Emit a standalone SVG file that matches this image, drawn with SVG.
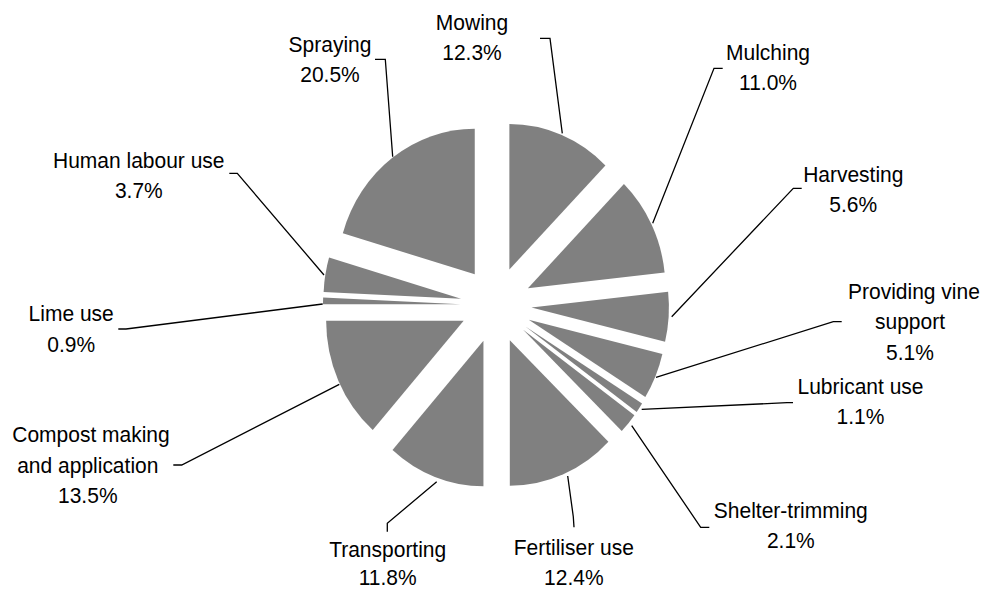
<svg xmlns="http://www.w3.org/2000/svg" width="981" height="592" viewBox="0 0 981 592">
  <style>
    .slice { fill: #808080; }
    .lbl { font-family: "Liberation Sans", Arial, sans-serif; font-size: 21px; fill: #000; text-anchor: middle; }
    .lead { fill: none; stroke: #000; stroke-width: 1.3; }
  </style>
  <rect width="981" height="592" fill="#fff"/>

  <!-- exploded pie: centre (496,305), radii 137.5 x 145.5, clockwise from 12 o'clock;
       labels are stretched 6% vertically about their first baseline -->
  <g id="mowing">
    <path class="slice" d="M509.38,269.53 L509.38,124.03 A137.5,145.5 0 0 1 605.41,165.39 Z"/>
    <text class="lbl" transform="matrix(1 0 0 1.06 0 -1.8)"><tspan x="472" y="30">Mowing</tspan><tspan x="472" y="58.3">12.3%</tspan></text>
  </g>
  <g id="mulching">
    <path class="slice" d="M527.92,288.24 L623.95,184.10 A137.5,145.5 0 0 1 664.62,272.53 Z"/>
    <text class="lbl" transform="matrix(1 0 0 1.06 0 -3.6)"><tspan x="768" y="60">Mulching</tspan><tspan x="768" y="88.77">11.0%</tspan></text>
  </g>
  <g id="harvesting">
    <path class="slice" d="M531.43,307.47 L668.13,291.76 A137.5,145.5 0 0 1 665.07,341.68 Z"/>
    <text class="lbl" transform="matrix(1 0 0 1.06 0 -10.902)"><tspan x="853.3" y="181.7">Harvesting</tspan><tspan x="853.3" y="210">5.6%</tspan></text>
  </g>
  <g id="vine-support">
    <path class="slice" d="M528.73,319.84 L662.37,354.05 A137.5,145.5 0 0 1 645.34,396.94 Z"/>
    <text class="lbl" transform="matrix(1 0 0 1.06 0 -17.94)"><tspan x="848" y="299" text-anchor="start">Providing vine</tspan><tspan x="910" y="327.77">support</tspan><tspan x="910" y="356.55">5.1%</tspan></text>
  </g>
  <g id="lubricant">
    <path class="slice" d="M525.43,326.42 L642.04,403.52 A137.5,145.5 0 0 1 636.67,411.94 Z"/>
    <text class="lbl" transform="matrix(1 0 0 1.06 0 -23.64)"><tspan x="860.5" y="394">Lubricant use</tspan><tspan x="860.5" y="422.3">1.1%</tspan></text>
  </g>
  <g id="shelter-trimming">
    <path class="slice" d="M523.16,329.67 L634.40,415.19 A137.5,145.5 0 0 1 621.74,431.11 Z"/>
    <text class="lbl" transform="matrix(1 0 0 1.06 0 -31.098)"><tspan x="790.8" y="518.3">Shelter-trimming</tspan><tspan x="790.8" y="546.6">2.1%</tspan></text>
  </g>
  <g id="fertiliser">
    <path class="slice" d="M509.81,340.28 L608.39,441.72 A137.5,145.5 0 0 1 509.81,485.78 Z"/>
    <text class="lbl" transform="matrix(1 0 0 1.06 0 -33.3)"><tspan x="573.8" y="555">Fertiliser use</tspan><tspan x="573.8" y="583.3">12.4%</tspan></text>
  </g>
  <g id="transporting">
    <path class="slice" d="M483.45,340.83 L483.45,486.33 A137.5,145.5 0 0 1 392.52,449.97 Z"/>
    <text class="lbl" transform="matrix(1 0 0 1.06 0 -33.42)"><tspan x="387.7" y="557">Transporting</tspan><tspan x="387.7" y="583.5">11.8%</tspan></text>
  </g>
  <g id="compost">
    <path class="slice" d="M463.65,320.76 L372.72,429.90 A137.5,145.5 0 0 1 326.15,320.76 Z"/>
    <text class="lbl" transform="matrix(1 0 0 1.06 0 -26.55)"><tspan x="91" y="442.5">Compost making</tspan><tspan x="87.8" y="471.56">and application</tspan><tspan x="87.8" y="499.86">13.5%</tspan></text>
  </g>
  <g id="lime">
    <path class="slice" d="M460.51,304.13 L323.01,304.13 A137.5,145.5 0 0 1 323.15,297.53 Z"/>
    <text class="lbl" transform="matrix(1 0 0 1.06 0 -19.242)"><tspan x="71.2" y="320.7">Lime use</tspan><tspan x="71.2" y="349.95">0.9%</tspan></text>
  </g>
  <g id="human-labour">
    <path class="slice" d="M460.99,298.68 L323.63,292.08 A137.5,145.5 0 0 1 329.08,257.60 Z"/>
    <text class="lbl" transform="matrix(1 0 0 1.06 0 -10.098)"><tspan x="138.8" y="168.3">Human labour use</tspan><tspan x="138.8" y="196.6">3.7%</tspan></text>
  </g>
  <g id="spraying">
    <path class="slice" d="M474.73,274.33 L342.82,233.25 A137.5,145.5 0 0 1 474.73,128.83 Z"/>
    <text class="lbl" transform="matrix(1 0 0 1.06 0 -3.102)"><tspan x="330" y="51.7">Spraying</tspan><tspan x="330" y="80.76">20.5%</tspan></text>
  </g>

  <!-- leader lines from labels to slices -->
  <g id="connectors">
    <path class="lead" d="M540,38.3 H550 L562.3,133.3"/>
    <path class="lead" d="M722.7,68.3 H714 L652.7,223.3"/>
    <path class="lead" d="M801.7,188.3 H793.3 L671.7,316.7"/>
    <path class="lead" d="M841.7,321.7 H833.3 L656,377.3"/>
    <path class="lead" d="M793,402.7 H787 L641.7,409.3"/>
    <path class="lead" d="M709.3,527.3 H700.7 L631.7,425.7"/>
    <path class="lead" d="M574,527.3 L573.3,516.7 L567.7,476"/>
    <path class="lead" d="M387.3,531.7 V523.3 L436.7,481.7"/>
    <path class="lead" d="M173.3,465 H181.7 L339.3,384.3"/>
    <path class="lead" d="M118.3,329 H126 L322.7,304"/>
    <path class="lead" d="M229.3,173.3 H237.3 L324,275"/>
    <path class="lead" d="M375,59.3 H385.3 L392.7,156.7"/>
  </g>
</svg>
